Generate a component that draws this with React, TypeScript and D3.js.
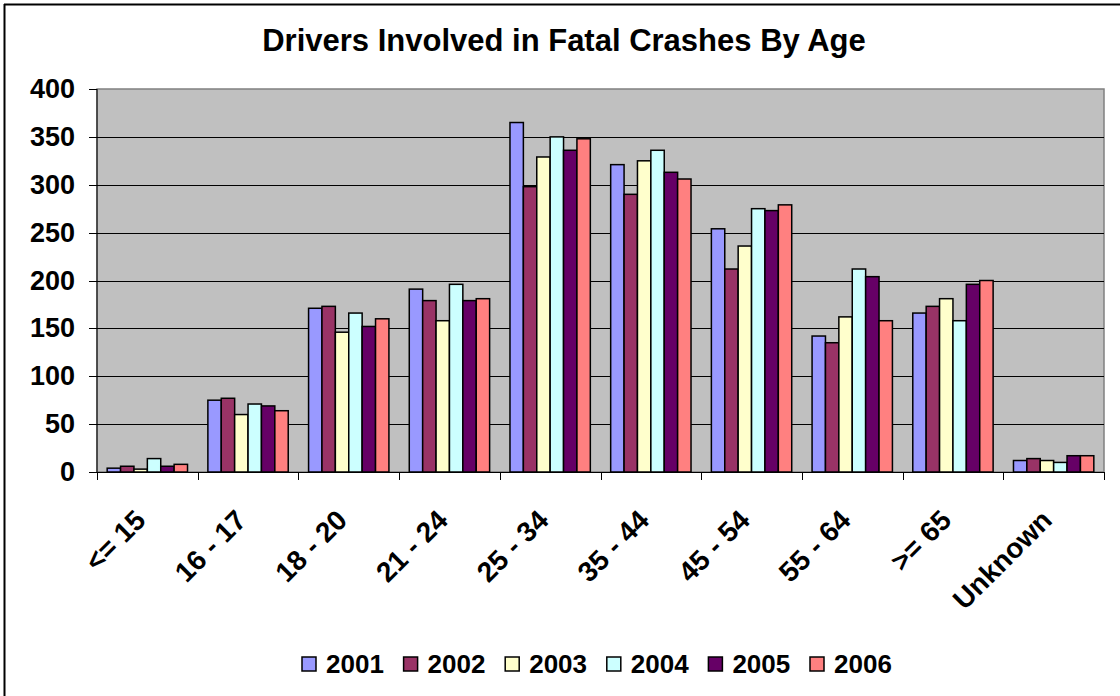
import React from "react";
import * as d3 from "d3";

const categories = ["<= 15", "16 - 17", "18 - 20", "21 - 24", "25 - 34", "35 - 44", "45 - 54", "55 - 64", ">= 65", "Unknown"];
const years = ["2001", "2002", "2003", "2004", "2005", "2006"];
const s2001 = [4, 75, 171, 191, 365, 321, 254, 142, 166, 12];
const s2002 = [6, 77, 173, 179, 298, 290, 212, 135, 173, 14];
const s2003 = [3, 60, 146, 158, 329, 325, 236, 162, 181, 12];
const s2004 = [14, 71, 166, 196, 350, 336, 275, 212, 158, 10];
const s2005 = [6, 69, 152, 179, 336, 313, 273, 204, 196, 17];
const s2006 = [8, 64, 160, 181, 348, 306, 279, 158, 200, 17];
const yTicks = [0, 50, 100, 150, 200, 250, 300, 350, 400];
const colors = ["#9999FF", "#993366", "#FFFFCC", "#CCFFFF", "#660066", "#FF8080"];

const series = [s2001, s2002, s2003, s2004, s2005, s2006];

export default function App() {
  const W = 1120, H = 696;
  const left = 97, right = 1104, top = 89, bottom = 472;
  const font = "'Liberation Sans', Arial, sans-serif";

  const x0 = d3.scaleBand<string>().domain(categories).range([left, right]).paddingInner(0).paddingOuter(0);
  const x1 = d3.scaleBand<string>().domain(years).range([0, x0.bandwidth()]).paddingInner(0).paddingOuter(0.76);
  const y = d3.scaleLinear().domain([0, 400]).range([bottom, top]);

  const legendX = d3.scaleLinear().domain([0, 5]).range([302, 810]);

  return (
    <svg width={W} height={H} style={{ position: "absolute", left: 0, top: 0, background: "#fff" }} fontFamily={font}>
      <rect x={0} y={0} width={W} height={H} fill="#fff" />
      <line x1={4} y1={4.5} x2={W} y2={4.5} stroke="#000" strokeWidth={2} />
      <line x1={4.5} y1={4} x2={4.5} y2={H} stroke="#000" strokeWidth={2} />

      <text x={564} y={51} textAnchor="middle" fontSize={31} fontWeight="bold">Drivers Involved in Fatal Crashes By Age</text>

      <rect x={left} y={top} width={right - left} height={bottom - top} fill="#C0C0C0" stroke="#808080" strokeWidth={1.5} />
      {yTicks.filter(t => t > 0 && t < 400).map(t => (
        <line key={t} x1={left} x2={right} y1={Math.round(y(t)) + 0.5} y2={Math.round(y(t)) + 0.5} stroke="#000" strokeWidth={1} />
      ))}

      {categories.map((c, i) => (
        <g key={c} transform={`translate(${x0(c)},0)`}>
          {series.map((s, j) => (
            <rect key={j} x={x1(years[j])} y={y(s[i])} width={x1.bandwidth()} height={bottom - y(s[i])}
              fill={colors[j]} stroke="#000" strokeWidth={1.5} />
          ))}
        </g>
      ))}

      <line x1={left} x2={left} y1={top} y2={bottom} stroke="#000" strokeWidth={1} />
      <line x1={left} x2={right} y1={bottom + 0.5} y2={bottom + 0.5} stroke="#000" strokeWidth={1} />
      {yTicks.map(t => (
        <g key={t}>
          <line x1={left - 8} x2={left} y1={Math.round(y(t)) + 0.5} y2={Math.round(y(t)) + 0.5} stroke="#000" strokeWidth={1} />
          <text x={75} y={y(t)} textAnchor="end" dominantBaseline="central" fontSize={27} fontWeight="bold">{t}</text>
        </g>
      ))}
      {categories.concat(["__end"]).map((c, i) => {
        const xx = Math.round(left + i * x0.step()) + 0.5;
        return <line key={c} x1={xx} x2={xx} y1={bottom} y2={bottom + 8} stroke="#000" strokeWidth={1} />;
      })}
      {categories.map(c => {
        const cx = (x0(c) as number) + x0.bandwidth() / 2;
        const cy = 522;
        return (
          <text key={c} x={cx} y={cy} transform={`rotate(-45 ${cx} ${cy})`} textAnchor="end" fontSize={28} fontWeight="bold">{c}</text>
        );
      })}

      {years.map((yr, j) => (
        <g key={yr} transform={`translate(${legendX(j)},0)`}>
          <rect x={0} y={657} width={14} height={14} fill={colors[j]} stroke="#000" strokeWidth={1.5} />
          <text x={24} y={673} fontSize={26} fontWeight="bold">{yr}</text>
        </g>
      ))}
    </svg>
  );
}
